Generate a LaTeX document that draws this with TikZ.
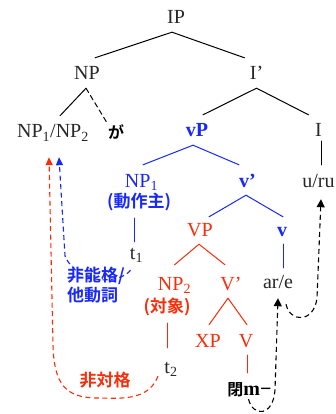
\documentclass[tikz,border=0pt]{standalone}
\usepackage{fontspec}
\setmainfont{Liberation Serif}
\newfontfamily\jp{Noto Sans CJK JP Bold}
\usetikzlibrary{arrows.meta}
\definecolor{myred}{RGB}{250,45,10}
\definecolor{myblue}{RGB}{25,40,250}
\definecolor{ink}{RGB}{40,40,40}
\tikzset{
  lab/.style={anchor=base, text height=14pt, text depth=0pt, inner xsep=1pt, inner ysep=8pt,
    font=\fontsize{20}{24}\selectfont, text=ink},
  jl/.style={anchor=base, text height=14pt, text depth=5pt, inner xsep=1pt, inner ysep=6pt,
    font=\fontsize{17}{20}\selectfont\jp},
  bl/.style={text=myblue},
  rd/.style={text=myred},
  edge/.style={line width=1pt, line cap=round},
  bedge/.style={edge, draw=myblue},
  redge/.style={edge, draw=myred},
  mv/.style={line width=1.1pt, dash pattern=on 5pt off 3.5pt},
  kmv/.style={mv, draw=black, -{Triangle[length=8pt,width=8pt]}},
  rmv/.style={mv, draw=myred, -{Triangle[length=8pt,width=7pt]}},
  bmv/.style={mv, draw=myblue, -{Triangle[length=8pt,width=7pt]}},
}
\begin{document}
\begin{tikzpicture}[x=1pt,y=-1pt]
\useasboundingbox (0,0) rectangle (335,414);
% nodes
\node[lab] (IP) at (176,24) {IP};
\node[lab] (NP) at (87,80) {NP};
\node[lab] (Ibar) at (256.5,80) {I’};
\node[lab] (NP12) at (53,138) {NP\textsubscript{1}/NP\textsubscript{2}};
\node[jl, text=black, font=\fontsize{16}{18}\selectfont\jp] (ga) at (116,139) {が};
\node[lab, bl, font=\fontsize{20}{24}\selectfont\bfseries] (vP) at (197,137) {vP};
\node[lab] (I) at (318.5,137) {I};
\node[lab, bl] (NP1) at (141.5,187) {NP\textsubscript{1}};
\node[jl, text=myblue] (np1lab) at (139,207) {(動作主)};
\node[lab, bl, font=\fontsize{20}{24}\selectfont\bfseries] (vbar) at (247.5,187) {v’};
\node[lab] (uru) at (318.5,187) {u/ru};
\node[lab, rd] (VP) at (200,236) {VP};
\node[lab, bl, font=\fontsize{20}{24}\selectfont\bfseries] (v) at (282,236) {v};
\node[lab] (t1) at (136.5,259) {t\textsubscript{1}};
\node[lab, rd] (NP2) at (174.5,290) {NP\textsubscript{2}};
\node[jl, text=myred] (np2lab) at (167,312) {(対象)};
\node[lab, rd] (Vbar) at (231,290) {V’};
\node[lab] (are) at (278,288) {ar/e};
\node[lab, rd] (XP) at (208,347) {XP};
\node[lab, rd] (V) at (246,347) {V};
\node[lab] (t2) at (171,373) {t\textsubscript{2}};
\node[lab, text=black] (mm) at (249.5,395) {{\fontsize{16}{20}\selectfont\jp 閉}\textbf{m−}};
\node[anchor=base west, inner sep=0pt, align=left, text=myblue,
  font=\fontsize{17}{20}\selectfont\jp] (unerg) at (67,301) {非能格/\\他動詞};
\node[anchor=base, inner sep=0pt, text=myred,
  font=\fontsize{17}{20}\selectfont\jp] (unacc) at (105,386) {非対格};
% tree edges
\draw[edge] ([xshift=-4pt]IP.south) -- ([xshift=8pt]NP.north);
\draw[edge] ([xshift=-4pt]IP.south) -- ([xshift=-12pt]Ibar.north);
\draw[edge] ([xshift=-1pt]NP.south) -- ([xshift=7pt]NP12.north);
\draw[edge, dash pattern=on 5pt off 3.5pt] ([xshift=-1pt]NP.south) -- ([xshift=-9pt,yshift=-4pt]ga.north);
\draw[edge] (Ibar.south) -- ([xshift=6pt]vP.north);
\draw[edge] (Ibar.south) -- ([xshift=-10pt]I.north);
\draw[edge] ([xshift=2.5pt,yshift=4pt]I.south) -- ([xshift=2.5pt]uru.north);
\draw[bedge] ([xshift=-4pt]vP.south) -- ([xshift=1.5pt]NP1.north);
\draw[bedge] ([xshift=-4pt]vP.south) -- ([xshift=-8.5pt]vbar.north);
\draw[bedge] ([xshift=-5pt]np1lab.south) -- ([xshift=-2.5pt,yshift=-5pt]t1.north);
\draw[bedge] ([xshift=-1.5pt]vbar.south) -- ([xshift=9pt,yshift=-3pt]VP.north);
\draw[bedge] ([xshift=-1.5pt]vbar.south) -- ([xshift=1pt,yshift=-3pt]v.north);
\draw[bedge] ([xshift=1pt]v.south) -- ([xshift=5pt,yshift=-2pt]are.north);
\draw[redge] ([xshift=-1pt]VP.south) -- ([yshift=3pt]NP2.north);
\draw[redge] ([xshift=-1pt]VP.south) -- ([xshift=-6pt,yshift=3pt]Vbar.north);
\draw[redge] (np2lab.south) -- ([xshift=-4pt,yshift=3pt]t2.north);
\draw[redge] ([xshift=-3pt]Vbar.south) -- ([xshift=1pt]XP.north);
\draw[redge] ([xshift=-3pt]Vbar.south) -- ([xshift=1pt]V.north);
\draw[redge] ([xshift=1pt]V.south) -- ([xshift=-2.5pt]mm.north);
% movement arrows
\draw[bmv] ([xshift=-6pt,yshift=-3pt]t1.south) .. controls (120,284) and (78,286) .. (65,256)
  -- ([xshift=6pt,yshift=-11pt]NP12.south);
\draw[rmv] ([xshift=-13pt,yshift=5pt]t2.south) .. controls (148,402) and (118,398) .. (98,398)
  .. controls (66,398) and (54,385) .. (53,345) -- ([xshift=-4pt,yshift=-11pt]NP12.south);
\draw[kmv] ([xshift=-1pt,yshift=4pt]mm.south) .. controls (253,417) and (273,417) .. (275,390)
  -- ([yshift=-2pt]are.south);
\draw[kmv] ([xshift=8pt,yshift=-8pt]are.south) .. controls (290,323) and (314,323) .. (317,298)
  -- ([xshift=2.5pt,yshift=-4pt]uru.south);
\end{tikzpicture}
\end{document}
